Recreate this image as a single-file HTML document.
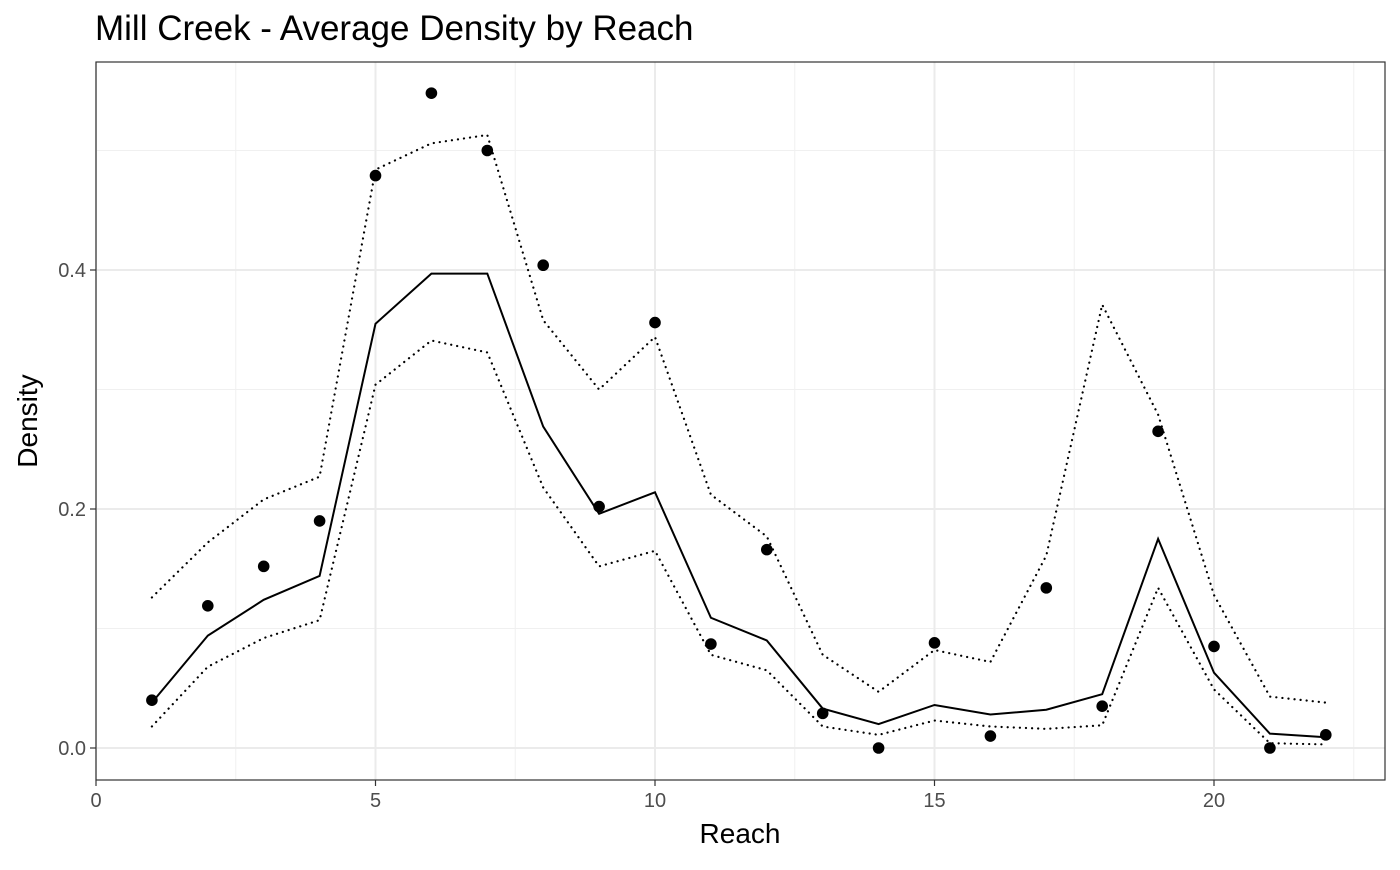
<!DOCTYPE html>
<html><head><meta charset="utf-8"><style>
body{margin:0;background:#fff;}
svg text{font-family:"Liberation Sans",Arial,sans-serif;}
</style></head><body>
<svg id="chart" width="1400" height="865" xmlns="http://www.w3.org/2000/svg">
<rect width="1400" height="865" fill="#fff"/>
<text x="95" y="40" font-size="35" fill="#000">Mill Creek - Average Density by Reach</text>
<g id="grid"></g>
<g id="series"></g>
<rect x="96" y="62" width="1289" height="718" fill="none" stroke="#333" stroke-width="1.2"/>
<g id="axes"></g>
<text x="740" y="843" font-size="28" text-anchor="middle" fill="#000">Reach</text>
<text transform="translate(37,421) rotate(-90)" font-size="28" text-anchor="middle" fill="#000">Density</text>
</svg>
<script>
const reaches=[1,2,3,4,5,6,7,8,9,10,11,12,13,14,15,16,17,18,19,20,21,22];
const observed=[0.040,0.119,0.152,0.190,0.479,0.548,0.500,0.404,0.202,0.356,0.087,0.166,0.029,0,0.088,0.010,0.134,0.035,0.265,0.085,0,0.011];
const meanDensity=[0.038,0.094,0.124,0.144,0.355,0.397,0.397,0.269,0.196,0.214,0.109,0.090,0.033,0.020,0.036,0.028,0.032,0.045,0.175,0.063,0.012,0.009];
const upperBound=[0.126,0.172,0.208,0.227,0.484,0.506,0.513,0.358,0.300,0.344,0.212,0.177,0.078,0.047,0.082,0.072,0.161,0.371,0.279,0.128,0.043,0.038];
const lowerBound=[0.018,0.068,0.092,0.107,0.304,0.341,0.331,0.218,0.152,0.165,0.078,0.065,0.018,0.011,0.023,0.018,0.016,0.019,0.134,0.049,0.004,0.003];
const xTicks=[0,5,10,15,20];
const xMinor=[2.5,7.5,12.5,17.5,22.5];
const yTicks=[0,0.2,0.4];
const yMinor=[0.1,0.3,0.5];
const yTickLabels=["0.0","0.2","0.4"];

const NS="http://www.w3.org/2000/svg";
const X=v=>96+v*55.9;
const Y=v=>748-v*1195;
function mk(tag,attrs,parent){const e=document.createElementNS(NS,tag);for(const k in attrs)e.setAttribute(k,attrs[k]);parent.appendChild(e);return e;}
const grid=document.getElementById('grid'),series=document.getElementById('series'),axes=document.getElementById('axes');
xMinor.forEach(v=>{const l=mk('line',{x1:X(v),x2:X(v),y1:62,y2:780,stroke:'#f0f0f0','stroke-width':1},grid);

});
yMinor.forEach(v=>{const l=mk('line',{x1:96,x2:1385,y1:Y(v),y2:Y(v),stroke:'#f0f0f0','stroke-width':1},grid);

});
xTicks.forEach(v=>{const l=mk('line',{x1:X(v),x2:X(v),y1:62,y2:780,stroke:'#ebebeb','stroke-width':2},grid);


const t=mk('line',{x1:X(v),x2:X(v),y1:780,y2:786,stroke:'#333','stroke-width':1.2},axes);


const tx=mk('text',{x:X(v),y:807,'font-size':20,'text-anchor':'middle',fill:'#4d4d4d'},axes);tx.textContent=v;

});
yTicks.forEach((v,i)=>{const l=mk('line',{x1:96,x2:1385,y1:Y(v),y2:Y(v),stroke:'#ebebeb','stroke-width':2},grid);


const t=mk('line',{x1:90,x2:96,y1:Y(v),y2:Y(v),stroke:'#333','stroke-width':1.2},axes);


const tx=mk('text',{x:86,y:Y(v)+7,'font-size':20,'text-anchor':'end',fill:'#4d4d4d'},axes);tx.textContent=yTickLabels[i];

});
function path(vals){return vals.map((v,i)=>(i?'L':'M')+X(reaches[i])+','+Y(v)).join(' ');}
const up=mk('path',{d:path(upperBound),fill:'none',stroke:'#000','stroke-width':2.2,'stroke-dasharray':'0.1,6','stroke-linecap':'round'},series);


const lo=mk('path',{d:path(lowerBound),fill:'none',stroke:'#000','stroke-width':2.2,'stroke-dasharray':'0.1,6','stroke-linecap':'round'},series);


const mn=mk('path',{d:path(meanDensity),fill:'none',stroke:'#000','stroke-width':2},series);


observed.forEach((v,i)=>{const c=mk('circle',{cx:X(reaches[i]),cy:Y(v),r:5.8,fill:'#000'},series);

});
</script>
</body></html>
